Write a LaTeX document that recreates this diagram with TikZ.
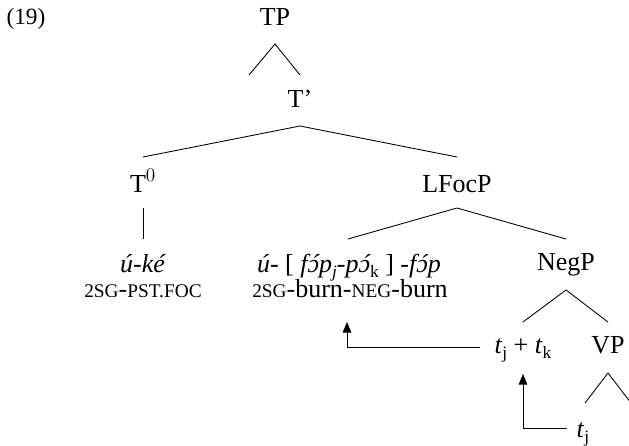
\documentclass[tikz,border=0pt]{standalone}
\usepackage{fontspec}
\setmainfont{Liberation Serif}
\usetikzlibrary{calc,arrows.meta}
\newcommand{\smc}[1]{{\fontsize{14.5}{15}\selectfont #1}}
\newcommand{\subtx}[1]{\raisebox{-0.2em}{\fontsize{13}{14}\selectfont #1}}
\newcommand{\oac}{{\ooalign{ɔ\cr\hidewidth\kern0.14em ´\hidewidth\cr}}}
\begin{document}
\begin{tikzpicture}[x=0.75pt,y=-0.75pt,
  font=\fontsize{19.5}{22}\selectfont,
  lbl/.style={inner sep=0pt,anchor=base},
  branch/.style={line width=0.65pt},
  mover/.style={line width=0.65pt,-{Triangle[length=8pt,width=6.5pt]}}]
\useasboundingbox (0,0) rectangle (629,446);
% labels
\node[lbl,font=\fontsize{17.5}{20}\selectfont] (ex) at (26,25) {(19)};
\node[lbl] (TP) at (275,26) {TP};
\node[lbl] (Tb) at (300,107) {T’};
\node[lbl] (T0) at (143,192) {T$^{0}$};
\node[lbl] (LF) at (457,192) {LFocP};
\node[lbl] (uke) at (143,272) {\textit{ú-ké}};
\node[lbl] (gl1) at (143,297) {\smc{2SG}-\smc{PST.FOC}};
\node[lbl] (ph) at (349,272) {\textit{ú-} [ \textit{f\oac p}\subtx{\textit{j}}\textit{-p\oac}\subtx{k} ] \textit{-f\oac p}};
\node[lbl] (gl2) at (350,297) {\smc{2SG}-burn-\smc{NEG}-burn};
\node[lbl] (Neg) at (566,270) {NegP};
\node[lbl] (tjk) at (523,353) {\textit{t}\subtx{j} + \textit{t}\subtx{k}};
\node[lbl] (VP) at (608,353) {VP};
\node[lbl] (tj) at (583,437) {\textit{t}\subtx{j}};
% branches
\draw[branch] ($(TP.base)+(-26,49)$) -- ($(TP.base)+(0,18)$) -- ($(Tb.base)+(0,-32)$);
\draw[branch] ($(T0.base)+(0,-35)$) -- ($(Tb.base)+(0,19)$) -- ($(LF.base)+(0,-35)$);
\draw[branch] ($(T0.base)+(0,16)$) -- ($(uke.base)+(0,-33)$);
\draw[branch] ($(ph.base)+(-1,-33)$) -- ($(LF.base)+(0,16)$) -- ($(Neg.base)+(0,-31)$);
\draw[branch] ($(tjk.base)+(0,-31)$) -- ($(Neg.base)+(0,20)$) -- ($(VP.base)+(0,-31)$);
\draw[branch] ($(VP.base)+(-23,50)$) -- ($(VP.base)+(0,20)$) -- ($(VP.base)+(23,50)$);
% movement arrows
\draw[mover] ($(tjk.base)+(-43,-6)$) -| ($(gl2.base)+(-3,25)$);
\draw[mover] ($(tj.base)+(-16,-9)$) -| ($(tjk.base)+(0,21)$);
\end{tikzpicture}
\end{document}
